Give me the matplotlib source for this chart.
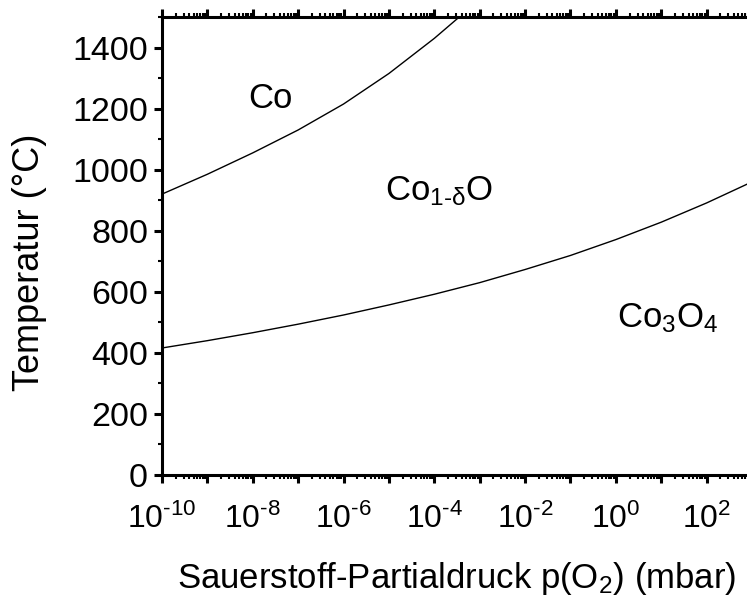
import numpy as np
import matplotlib
matplotlib.use("Agg")
import matplotlib.pyplot as plt
from matplotlib.ticker import LogLocator, FixedLocator, MultipleLocator, FuncFormatter

plt.rcParams['font.family'] = ['Liberation Sans', 'DejaVu Sans']
plt.rcParams['mathtext.fontset'] = 'custom'
plt.rcParams['mathtext.rm'] = 'Liberation Sans'
plt.rcParams['mathtext.it'] = 'Liberation Sans:italic'
plt.rcParams['mathtext.default'] = 'regular'
plt.rcParams['axes.unicode_minus'] = False

# Co / CoO boundary (log10 pO2 in mbar, temperature in °C)
upper_logp = [-10, -9, -8, -7, -6, -5, -4, -3.45]
upper_T = [920, 985, 1055, 1130, 1215, 1315, 1430, 1500]

# CoO / Co3O4 boundary
lower_logp = [-10, -9, -8, -7, -6, -5, -4, -3, -2, -1, 0, 1, 2, 3]
lower_T = [416, 440, 466, 494, 524, 557, 592, 630, 673, 719, 771, 828, 891, 960]

phase_labels = ["Co", "Co$_{1\\text{-}\\delta}$O", "Co$_3$O$_4$"]
phase_pos_logp = [-7.6, -3.9, 1.15]
phase_pos_T = [1232, 930, 515]

y_ticks = [0, 200, 400, 600, 800, 1000, 1200, 1400]

fig = plt.figure(figsize=(7.47, 6.01), dpi=100)
ax = fig.add_axes([162 / 747, (601 - 475) / 601, 590 / 747, 458 / 601])

ax.plot(10.0 ** np.array(upper_logp), upper_T, color='black', lw=1.0)
ax.plot(10.0 ** np.array(lower_logp), lower_T, color='black', lw=1.0)

for lab, lx, ly in zip(phase_labels, phase_pos_logp, phase_pos_T):
    ax.text(10.0 ** lx, ly, lab, fontsize=25, ha='center', va='center')

ax.set_xscale('log')
ax.set_xlim(1e-10, 1e3)
ax.set_ylim(0, 1500)

ax.xaxis.set_major_locator(FixedLocator([10.0 ** k for k in range(-10, 4)]))
ax.xaxis.set_minor_locator(LogLocator(base=10, subs=np.arange(2, 10), numticks=100))


def xfmt(v, pos):
    k = int(round(np.log10(v)))
    if k % 2 == 0 and k <= 2:
        if k < 0:
            return "$10^{\\text{-}%d}$" % (-k)
        return "$10^{%d}$" % k
    return ""


ax.xaxis.set_major_formatter(FuncFormatter(xfmt))
ax.xaxis.set_minor_formatter(FuncFormatter(lambda v, p: ""))
ax.yaxis.set_major_locator(FixedLocator(y_ticks))
ax.yaxis.set_minor_locator(MultipleLocator(100))

for s in ['left', 'bottom', 'top', 'right']:
    ax.spines[s].set_linewidth(2.2)

ax.tick_params(axis='both', which='major', direction='out', length=6, width=2.2,
               top=True, right=False)
ax.tick_params(axis='both', which='minor', direction='out', length=3, width=1.5,
               top=True, right=False)
ax.tick_params(axis='x', which='major', pad=15, labelsize=23)
ax.tick_params(axis='y', which='major', pad=4, labelsize=24.5)

fig.text(457 / 747, (601 - 588) / 601, "Sauerstoff-Partialdruck p(O$_2$) (mbar)",
         fontsize=25, ha='center', va='baseline')
fig.text(30 / 747, 1 - 262 / 601, "Temperatur (°C)", fontsize=26,
         ha='center', va='center', rotation=90)

fig.savefig("out.png", dpi=100)
